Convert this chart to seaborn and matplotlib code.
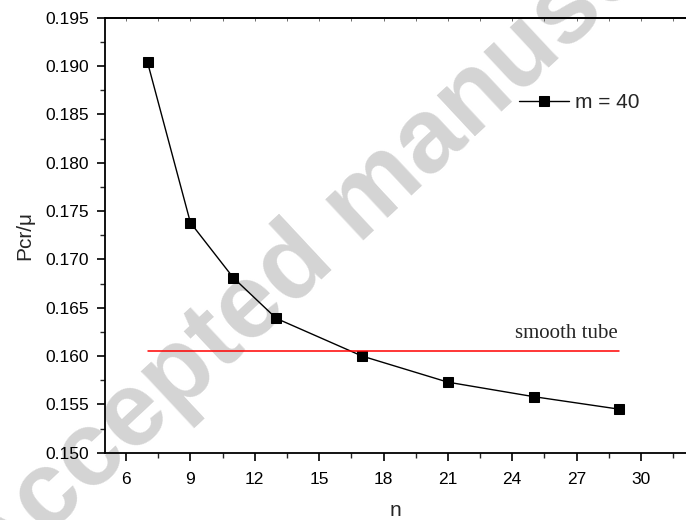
import matplotlib
matplotlib.use("Agg")
import matplotlib.pyplot as plt
import seaborn as sns
from matplotlib.ticker import MultipleLocator, FormatStrFormatter

# data
n_vals = [7, 9, 11, 13, 17, 21, 25, 29]
pcr_vals = [0.1904, 0.1738, 0.1681, 0.1639, 0.1600, 0.1573, 0.1558, 0.1545]
smooth_n = [7, 29]
smooth_pcr = [0.16055, 0.16055]

sns.set_style("ticks")
plt.rcParams["font.family"] = ["Liberation Sans", "DejaVu Sans"]

fig = plt.figure(figsize=(6.86, 5.2), dpi=100)
ax = fig.add_axes([0.1525, 0.1294, 0.8475, 0.8364])

# watermark behind everything
fig.text(0.53, 0.61, "Accepted manuscript", fontsize=76, fontweight="bold",
         color="#d4d4d4", rotation=43, ha="center", va="center", zorder=-1)
ax.patch.set_alpha(0)

sns.lineplot(x=n_vals, y=pcr_vals, ax=ax, color="black", marker="s",
             markersize=7.3, markeredgecolor="black", linewidth=1.0,
             label="m = 40")
sns.lineplot(x=smooth_n, y=smooth_pcr, ax=ax, color="red", linewidth=1.1,
             legend=False)

ax.text(28.9, 0.1613, "smooth tube", fontsize=15, ha="right", va="bottom",
        family=["Liberation Serif", "DejaVu Serif"])

ax.set_xlim(5, 32.1)
ax.set_ylim(0.150, 0.195)
ax.xaxis.set_major_locator(MultipleLocator(3))
ax.xaxis.set_minor_locator(MultipleLocator(1.5))
ax.yaxis.set_major_locator(MultipleLocator(0.005))
ax.yaxis.set_minor_locator(MultipleLocator(0.0025))
ax.yaxis.set_major_formatter(FormatStrFormatter("%.3f"))
ax.tick_params(which="major", direction="out", length=6, width=1.2,
               labelsize=12.5, colors="black", pad=5)
ax.tick_params(which="minor", direction="out", length=3.6, width=1.0)
ax.tick_params(axis="x", which="major", pad=8)

# faint inward ticks along the top edge
top = ax.secondary_xaxis("top")
top.xaxis.set_major_locator(MultipleLocator(1.5))
top.tick_params(direction="in", length=2, width=0.6, labeltop=False,
                colors="#555555")
top.spines["top"].set_linewidth(1.3)

for side in ["left", "bottom", "top"]:
    ax.spines[side].set_visible(True)
    ax.spines[side].set_linewidth(1.3)
    ax.spines[side].set_color("black")
ax.spines["right"].set_visible(False)

ax.set_xlabel("n", fontsize=15, labelpad=10)
ax.set_ylabel("Pcr/\u03bc", fontsize=15, labelpad=8)

leg = ax.legend(loc="upper left", bbox_to_anchor=(0.68, 0.87), frameon=False,
                fontsize=15, handlelength=2.4, handletextpad=0.3)

fig.savefig("out.png", dpi=100)
